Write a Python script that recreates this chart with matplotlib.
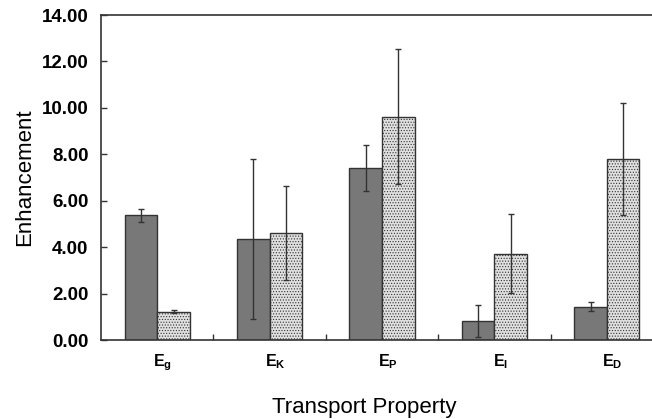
import matplotlib.pyplot as plt
import numpy as np

plt.rcParams["font.family"] = ["Liberation Sans", "DejaVu Sans"]
plt.rcParams["mathtext.fontset"] = "custom"
plt.rcParams["mathtext.rm"] = "Liberation Sans"
plt.rcParams["mathtext.bf"] = "Liberation Sans:bold"
plt.rcParams["hatch.color"] = "#a8a8a8"
plt.rcParams["hatch.linewidth"] = 0.5

categories = [r"$\mathbf{E_g}$", r"$\mathbf{E_K}$", r"$\mathbf{E_P}$",
              r"$\mathbf{E_I}$", r"$\mathbf{E_D}$"]
dark_vals = [5.38, 4.35, 7.40, 0.82, 1.44]
dark_err = [0.28, 3.45, 1.00, 0.67, 0.20]
light_vals = [1.22, 4.60, 9.62, 3.72, 7.79]
light_err = [0.07, 2.03, 2.90, 1.70, 2.40]

x = np.arange(len(categories))
w = 0.29

fig = plt.figure(figsize=(6.52, 4.19), dpi=100)
ax = fig.add_axes([0.155, 0.1885, 0.862, 0.7757])

ax.bar(x - w / 2, dark_vals, w, color="#787878", edgecolor="#333333", lw=1.0)
ax.bar(x + w / 2, light_vals, w, color="#e0e0e0", edgecolor="#333333", lw=1.0,
       hatch="......")
ekw = dict(fmt="none", ecolor="#333333", elinewidth=1.0, capsize=2, capthick=1.0)
ax.errorbar(x - w / 2, dark_vals, yerr=dark_err, **ekw)
ax.errorbar(x + w / 2, light_vals, yerr=light_err, **ekw)

ax.set_xlim(-0.5, 4.5)
ax.set_ylim(0, 14)
ax.set_yticks(np.arange(0, 15, 2))
ax.set_yticklabels([f"{v:.2f}" for v in np.arange(0, 15, 2)],
                   fontsize=13.5, fontweight="bold")
ax.set_xticks(x + 0.05)
ax.set_xticklabels(categories, fontsize=11.5)
ax.set_xticks(np.arange(0.5, 4.5, 1), minor=True)
ax.tick_params(axis="x", which="major", length=0, pad=9)
ax.tick_params(axis="x", which="minor", direction="in", length=4, width=1.0,
               color="#333333")
ax.tick_params(axis="y", direction="in", length=4, width=1.0, color="#333333",
               pad=9)

for s in ax.spines.values():
    s.set_color("#333333")
    s.set_linewidth(1.2)

ax.set_ylabel("Enhancement", fontsize=16, labelpad=5)
ax.set_xlabel("Transport Property", fontsize=16)
ax.xaxis.set_label_coords(0.468, -0.176, transform=ax.transAxes)
ax.xaxis.label.set_va("top")

fig.savefig("out.png", dpi=100)
